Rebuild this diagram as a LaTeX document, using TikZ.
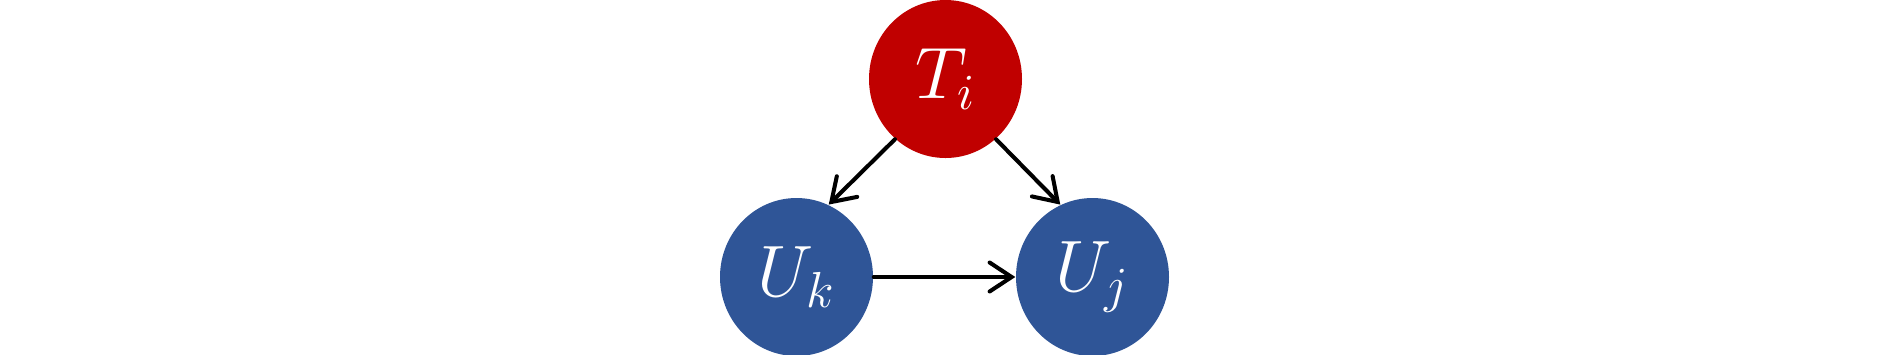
\documentclass[tikz,border=0pt]{standalone}
\usepackage{xcolor}
\usepackage{tikz}
\usetikzlibrary{shapes.geometric,arrows.meta,positioning}
\definecolor{treat}{RGB}{192,0,0}
\definecolor{unit}{RGB}{47,85,151}

\begin{document}
\begin{tikzpicture}[
  var/.style={ellipse, draw=none, text=white, font=\fontsize{19.5pt}{24pt}\selectfont, minimum width=1.53cm, minimum height=1.58cm, inner sep=0pt},
  tnode/.style={var, fill=treat},
  unode/.style={var, fill=unit},
  arr/.style={-{Straight Barb[length=2.2mm, width=2.9mm, line cap=round]}, line width=1.15pt, line cap=round}
]
% canvas
\useasboundingbox (0, 0) rectangle (18.9, 3.54);

% Nodes
\node[tnode] (ti) at (9.455, 2.75) {$T_i$};
\node[unode] (uk) at (7.965, 0.77) {$U_k$};
\node[unode] (uj) at (10.925, 0.77) {$U_j$};

% Edges
\draw[arr] (ti.230) -- (uk.66);
\draw[arr] (ti.310) -- (uj.114);
\draw[arr] (uk.east) -- (uj.west);
\end{tikzpicture}
\end{document}
